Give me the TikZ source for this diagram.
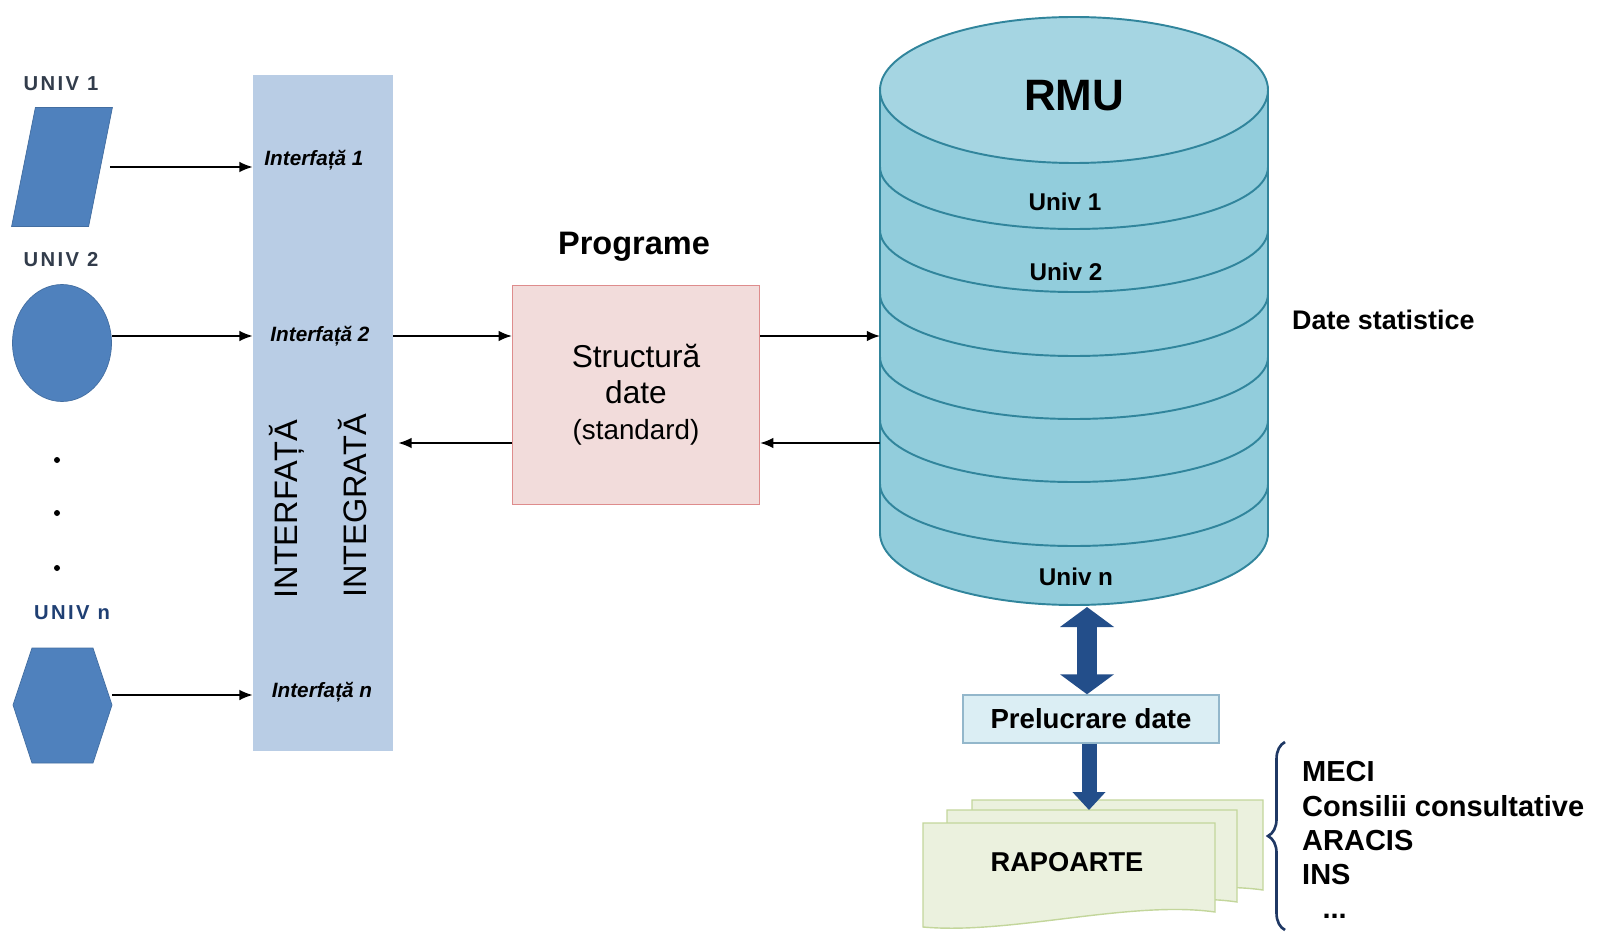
\documentclass[tikz,border=0pt]{standalone}
\usepackage{fontspec}
\setmainfont{Liberation Sans}
\usepackage{tikz}
\usepackage{xcolor}
\usetikzlibrary{arrows.meta,decorations.pathreplacing,shapes.geometric}

\definecolor{univblue}{RGB}{79,129,189}
\definecolor{univgray}{RGB}{50,60,75}
\definecolor{univnavy}{RGB}{31,63,115}
\definecolor{barblue}{RGB}{185,205,229}
\definecolor{pinkfill}{RGB}{242,220,219}
\definecolor{pinkline}{RGB}{222,140,140}
\definecolor{cylfill}{RGB}{146,205,220}
\definecolor{cyltop}{RGB}{165,213,226}
\definecolor{cylline}{RGB}{49,133,156}
\definecolor{prelfill}{RGB}{219,238,244}
\definecolor{prelline}{RGB}{147,183,203}
\definecolor{navy}{RGB}{35,78,138}
\definecolor{pagefill}{RGB}{235,241,222}
\definecolor{pageline}{RGB}{195,214,155}
\definecolor{bracecol}{RGB}{31,56,100}

\tikzstyle{univ} = [fill=univblue, draw=univblue!85!black, inner sep=0pt]
\tikzstyle{univlabel} = [font=\fontsize{11.5}{13}\selectfont\bfseries\addfontfeature{LetterSpace=12}, text=univgray]
\tikzstyle{iface} = [font=\fontsize{11.8}{13}\selectfont\bfseries\itshape]
\tikzstyle{vtext} = [rotate=90, font=\fontsize{18.5}{20}\selectfont]
\tikzstyle{struct} = [rectangle, fill=pinkfill, draw=pinkline, line width=0.8pt, minimum width=4.94cm, minimum height=4.38cm, align=center, font=\fontsize{18}{20.5}\selectfont]
\tikzstyle{cyl} = [draw=cylline, line width=1.1pt]
\tikzstyle{dblabel} = [font=\fontsize{13.8}{15}\selectfont\bfseries]
\tikzstyle{prelbox} = [rectangle, fill=prelfill, draw=prelline, line width=0.8pt, minimum width=5.12cm, minimum height=0.96cm, font=\fontsize{15.7}{17}\selectfont\bfseries]
\tikzstyle{page} = [fill=pagefill, draw=pageline, line width=0.8pt]
\tikzstyle{flow} = [line width=0.9pt,->,>={Latex[length=7.5pt,width=6pt]}]
\tikzstyle{fat} = [draw=navy, line width=0.4cm, {Triangle[length=0.4cm,width=1.06cm]}-{Triangle[length=0.4cm,width=1.06cm]}]
\tikzstyle{fatdown} = [draw=navy, line width=0.3cm, -{Triangle[length=0.36cm,width=0.64cm]}]
\tikzstyle{brace} = [draw=bracecol, line width=1.5pt, decorate, decoration={brace, amplitude=0.34cm}]

\begin{document}
\begin{tikzpicture}[x=0.02cm, y=-0.02cm]
    \useasboundingbox (0,0) rectangle (1598,932);

    % universitati
    \node (u1) [univ, rectangle, xslant=0.2, minimum width=1.54cm, minimum height=2.38cm] at (62,167) {};
    \node (u2) [univ, ellipse, minimum width=1.98cm, minimum height=2.34cm] at (62,343) {};
    \filldraw[univ] (13,705) -- (32,648) -- (93,648) -- (112,705) -- (93,763) -- (32,763) -- cycle;
    \coordinate (u3) at (112,695);
    \node (l1) [univlabel] at (61,84) {UNIV 1};
    \node (l2) [univlabel] at (61,260) {UNIV 2};
    \node (ln) [univlabel, text=univnavy] at (72,613) {UNIV n};
    \foreach \y in {460,513,568}
        \fill (57,\y) circle (3);

    % interfata integrata
    \node (bar) [rectangle, fill=barblue, minimum width=2.8cm, minimum height=13.54cm] at (323,413) {};
    \node (i1) [iface] at (314,160) {Interfață 1};
    \node (i2) [iface] at (320,336) {Interfață 2};
    \node (in) [iface] at (322,692) {Interfață n};
    \node (v1) [vtext] at (287,509) {INTERFAȚĂ};
    \node (v2) [vtext] at (353,506) {INTEGRATĂ};

    % programe
    \node (prog) [font=\fontsize{18.5}{20}\selectfont\bfseries, anchor=base] at (634,255) {Programe};
    \node (box) [struct] at (636,395) {Structură\\date\\{\fontsize{15.8}{20.5}\selectfont(standard)}};

    % baza de date RMU
    \fill[cylfill] (880,90) -- (880,533) arc[start angle=180, end angle=0, x radius=194, y radius=72] -- (1268,90) -- cycle;
    \foreach \s in {167,230,294,357,420,484}
        \draw[cyl] (880,\s) arc[start angle=180, end angle=0, x radius=194, y radius=62];
    \draw[cyl] (880,90) -- (880,533) arc[start angle=180, end angle=0, x radius=194, y radius=72] -- (1268,90);
    \filldraw[cyl, fill=cyltop] (1074,90) ellipse [x radius=194, y radius=73];
    \coordinate (dbw) at (880,300);
    \coordinate (dbs) at (1087,607);
    \node (rmu) [font=\fontsize{25}{28}\selectfont\bfseries] at (1074,96) {RMU};
    \node (db1) [dblabel] at (1065,202) {Univ 1};
    \node (db2) [dblabel] at (1066,272) {Univ 2};
    \node (dbn) [dblabel] at (1076,577) {Univ n};
    \node (stat) [anchor=west, font=\fontsize{15.3}{17}\selectfont\bfseries] at (1286,320) {Date statistice};

    % fluxuri
    \coordinate (hi) at (0,336);
    \coordinate (lo) at (0,443);
    \draw [flow] ([xshift=0.18cm]u1.east) -- (u1.east -| bar.west);
    \draw [flow] (u2.east |- hi) -- (bar.west |- hi);
    \draw [flow] (u3) -- (u3 -| bar.west);
    \draw [flow] (bar.east |- hi) -- (box.west |- hi);
    \draw [flow] (box.east |- hi) -- (dbw |- hi);
    \draw [flow] (dbw |- lo) -- (box.east |- lo);
    \draw [flow, shorten >=0.1cm] (box.west |- lo) -- (bar.east |- lo);

    % prelucrare si rapoarte
    \node (prel) [prelbox] at (1091,719) {Prelucrare date};
    \filldraw[page] (972,800) -- (1263,800) -- (1263,890) .. controls (1180,878) and (1060,912) .. (972,903) -- cycle;
    \filldraw[page] (947,810) -- (1237,810) -- (1237,902) .. controls (1160,890) and (1030,925) .. (947,915) -- cycle;
    \filldraw[page] (923,823) -- (1215,823) -- (1215,912) .. controls (1130,900) and (1010,935) .. (923,927) -- cycle;
    \coordinate (docs) at (1089,810);
    \node (rap) [font=\fontsize{15.5}{17}\selectfont\bfseries] at (1067,862) {RAPOARTE};
    \draw [fat] (dbs) -- (dbs |- prel.north);
    \draw [fatdown] (prel.south -| docs) -- (docs);

    % beneficiari
    \coordinate (bb) at (1285,930);
    \coordinate (bt) at (1285,742);
    \draw [brace] (bb) -- (bt);
    \node (dest) [anchor=west, align=left, font=\fontsize{16.5}{19.4}\selectfont\bfseries] at (1296,840) {MECI\\Consilii consultative\\ARACIS\\INS\\\hspace{0.7em}...};
\end{tikzpicture}
\end{document}
